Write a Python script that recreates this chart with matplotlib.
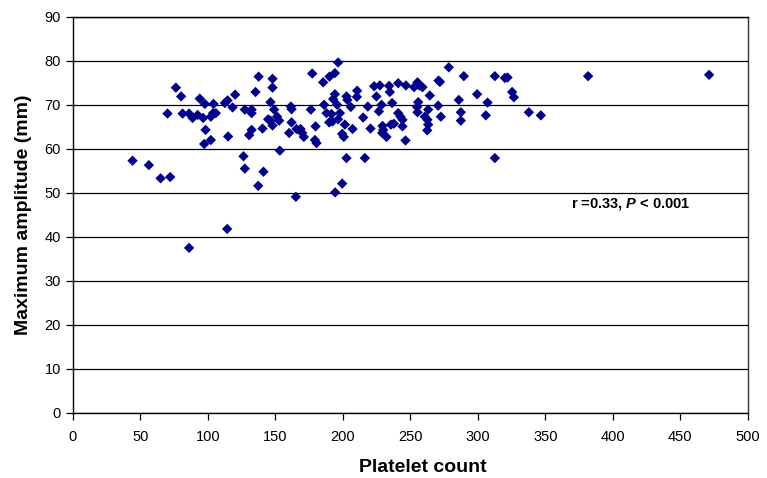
import matplotlib
matplotlib.use('Agg')
import matplotlib.pyplot as plt

plt.rcParams['font.family'] = ['Liberation Sans', 'DejaVu Sans']
plt.rcParams['mathtext.fontset'] = 'custom'
plt.rcParams['mathtext.it'] = 'Liberation Sans:italic:bold'

# platelet count vs maximum amplitude
platelets = [
    76.3, 80.2, 94.0, 97.8, 104.2, 112.6, 114.6, 120.2, 135.3, 137.6,
    70.1, 81.3, 86.1, 88.7, 92.4, 96.5, 102.2, 103.9, 105.9, 118.3,
    127.4, 132.4, 132.4, 98.3, 102.2, 97.3, 115.0, 132.4, 130.6, 44.2,
    56.3, 126.4, 127.4, 65.0, 72.1, 137.3, 114.3, 86.1, 141.2, 165.2,
    194.3, 199.5, 196.5, 177.3, 147.9, 147.9, 190.1, 194.1, 185.4, 146.4,
    149.1, 161.5, 162.0, 176.3, 186.1, 194.1, 192.8, 195.8, 187.9, 191.6,
    197.8, 202.7, 203.4, 205.9, 210.6, 210.4, 218.5, 223.2, 224.9, 227.4,
    234.3, 234.8, 228.7, 226.7, 236.5, 241.0, 140.5, 144.7, 146.4, 147.9,
    151.3, 152.8, 162.0, 160.2, 165.7, 168.7, 169.9, 171.1, 179.8, 179.3,
    180.5, 189.9, 192.3, 196.5, 201.5, 199.5, 200.7, 207.2, 215.0, 220.5,
    229.4, 229.1, 232.3, 235.6, 237.8, 153.3, 202.7, 216.3, 278.5, 289.6,
    312.6, 320.0, 246.7, 255.3, 256.5, 252.8, 259.0, 270.9, 271.9, 264.4,
    255.8, 255.0, 270.6, 263.2, 285.9, 299.5, 307.2, 287.4, 272.6, 305.9,
    287.4, 241.0, 242.7, 244.2, 255.3, 260.7, 262.7, 263.2, 262.5, 244.2,
    229.9, 246.4, 312.6, 322.0, 325.4, 326.7, 337.8, 346.7, 381.7, 471.3,
]
amplitude = [
    73.9, 71.9, 71.4, 70.2, 70.2, 70.4, 71.0, 72.3, 72.9, 76.4,
    68.0, 68.0, 68.0, 67.0, 67.7, 67.0, 67.3, 68.1, 68.1, 69.4,
    68.9, 68.9, 68.1, 64.3, 62.0, 61.1, 62.8, 64.3, 63.1, 57.3,
    56.3, 58.3, 55.5, 53.3, 53.6, 51.6, 41.8, 37.5, 54.8, 49.1,
    50.1, 52.1, 79.6, 77.1, 75.9, 73.9, 76.4, 77.2, 75.1, 70.6,
    68.9, 69.6, 69.0, 68.9, 70.0, 72.4, 71.3, 70.0, 68.1, 67.9,
    68.1, 71.9, 71.1, 69.5, 73.2, 71.8, 69.6, 74.2, 71.9, 74.4,
    74.3, 72.9, 70.0, 68.5, 70.4, 74.9, 64.6, 66.7, 66.4, 65.3,
    67.3, 66.4, 66.0, 63.6, 64.5, 64.5, 63.6, 62.7, 65.1, 62.0,
    61.3, 66.0, 66.2, 66.7, 65.5, 63.4, 62.7, 64.5, 67.1, 64.6,
    65.2, 63.6, 62.7, 65.5, 65.7, 59.6, 57.9, 57.9, 78.5, 76.5,
    76.5, 76.1, 74.4, 75.1, 74.4, 74.0, 74.0, 75.5, 75.2, 72.1,
    70.6, 69.5, 69.8, 68.9, 71.1, 72.4, 70.5, 68.3, 67.3, 67.6,
    66.4, 68.1, 67.3, 66.6, 68.3, 67.3, 66.6, 65.5, 64.2, 65.1,
    64.3, 61.9, 57.9, 76.2, 72.9, 71.7, 68.3, 67.6, 76.5, 76.8,
]

fig = plt.figure(figsize=(7.67, 4.78), dpi=100)
ax = fig.add_axes([0.095, 0.136, 0.880, 0.829])

ax.set_axisbelow(True)
ax.yaxis.grid(True, color='black', linewidth=0.9)
ax.scatter(platelets, amplitude, marker='D', s=28, color='#00008b',
           edgecolors='none', zorder=3)

ax.set_xlim(0, 500)
ax.set_ylim(0, 90)
ax.set_xticks(range(0, 501, 50))
ax.set_yticks(range(0, 91, 10))
ax.tick_params(direction='out', length=5, width=0.9, labelsize=10.5,
               colors='black')
ax.tick_params(axis='x', pad=7)
for side in ['left', 'bottom', 'top']:
    ax.spines[side].set_color('black')
    ax.spines[side].set_linewidth(1.0)
ax.spines['right'].set_color('#333333')
ax.spines['right'].set_linewidth(1.0)

ax.set_xlabel('Platelet count', fontsize=14, fontweight='bold', labelpad=11)
ax.xaxis.label.set_x(0.518)
ax.set_ylabel('Maximum amplitude (mm)', fontsize=14, fontweight='bold',
              labelpad=9)

ax.text(369, 47.4, r'r =0.33, $\mathit{P}$ < 0.001', fontsize=10.5,
        fontweight='bold', va='center', ha='left')

fig.savefig('out.png', dpi=100)
